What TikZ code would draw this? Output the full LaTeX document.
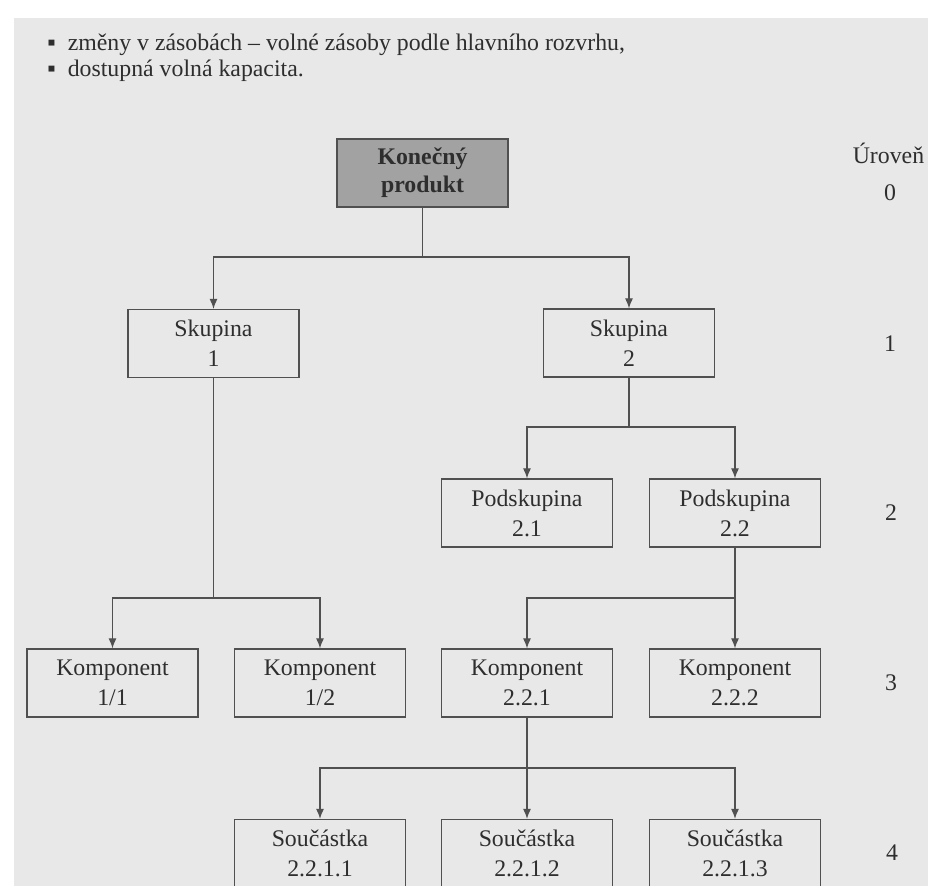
\documentclass[tikz,border=0pt]{standalone}
\usepackage{fontspec}
\setmainfont{Liberation Serif}
\usetikzlibrary{arrows.meta}
\definecolor{paper}{HTML}{E8E8E8}
\definecolor{ink}{HTML}{2E2E2E}
\definecolor{rule}{HTML}{505050}
\definecolor{rootfill}{HTML}{A2A2A2}
\tikzset{
  part/.style={draw=rule, line width=0.6pt, minimum width=85.5pt, minimum height=34pt,
    inner sep=0pt, align=center, text=ink, font=\fontsize{11.9}{15}\selectfont},
  toppart/.style={part, fill=rootfill, font=\fontsize{11.9}{14}\selectfont\bfseries},
  plain/.style={text=ink, inner sep=0pt, font=\fontsize{11.9}{15}\selectfont},
  link/.style={draw=rule, line width=0.6pt},
  arr/.style={link, -{Latex[length=5pt,width=4pt]}}
}

\begin{document}
\begin{tikzpicture}[x=0.5pt,y=-0.5pt]
      \useasboundingbox (0,0) rectangle (928,886);
      \fill[paper] (14,18) rectangle (928,886);
      % text above the figure
      \node[plain, anchor=base west] (bulA) at (47,51) {▪\hspace{6pt}změny v zásobách – volné zásoby podle hlavního rozvrhu,};
      \node[plain, anchor=base west] (bulB) at (47,77) {▪\hspace{6pt}dostupná volná kapacita.};
      % levels
      \node[plain] (title) at (888.5,153) {Úroveň};
      \node[plain] (lvl0) at (890,193) {0};
      \node[plain] (lvl1) at (890,344) {1};
      \node[plain] (lvl2) at (891,513) {2};
      \node[plain] (lvl3) at (891,683) {3};
      \node[plain] (lvl4) at (892,853) {4};
      % boxes
      \node[toppart] (root) at (422.5,173) {Konečný\\produkt};
      \node[part] (grp1) at (213.5,343.5) {Skupina\\1};
      \node[part] (grp2) at (629,343) {Skupina\\2};
      \node[part] (sub1) at (527,513) {Podskupina\\2.1};
      \node[part] (sub2) at (735,513) {Podskupina\\2.2};
      \node[part] (comA) at (112.5,683) {Komponent\\1/1};
      \node[part] (comB) at (320,683) {Komponent\\1/2};
      \node[part] (comC) at (527,683) {Komponent\\2.2.1};
      \node[part] (comD) at (735,683) {Komponent\\2.2.2};
      \node[part] (pcsA) at (320,853.5) {Součástka\\2.2.1.1};
      \node[part] (pcsB) at (527,853.5) {Součástka\\2.2.1.2};
      \node[part] (pcsC) at (735,853.5) {Součástka\\2.2.1.3};
      % branch points
      \coordinate (j0) at (422.5,257);
      \coordinate (j1) at (213.5,598);
      \coordinate (j2) at (629,427);
      \coordinate (j3) at (735,598);
      \coordinate (j4) at (527,768);
      % connectors
      \draw[link] (root) -- (j0);
      \draw[arr] (j0) -| (grp1);
      \draw[arr] (j0) -| (grp2);
      \draw[link] (grp1) -- (j1);
      \draw[arr] (j1) -| (comA);
      \draw[arr] (j1) -| (comB);
      \draw[link] (grp2) -- (j2);
      \draw[arr] (j2) -| (sub1);
      \draw[arr] (j2) -| (sub2);
      \draw[link] (sub2) -- (j3);
      \draw[arr] (j3) -| (comC);
      \draw[arr] (j3) -| (comD);
      \draw[link] (comC) -- (j4);
      \draw[arr] (j4) -| (pcsA);
      \draw[arr] (j4) -- (pcsB);
      \draw[arr] (j4) -| (pcsC);
\end{tikzpicture}
\end{document}
